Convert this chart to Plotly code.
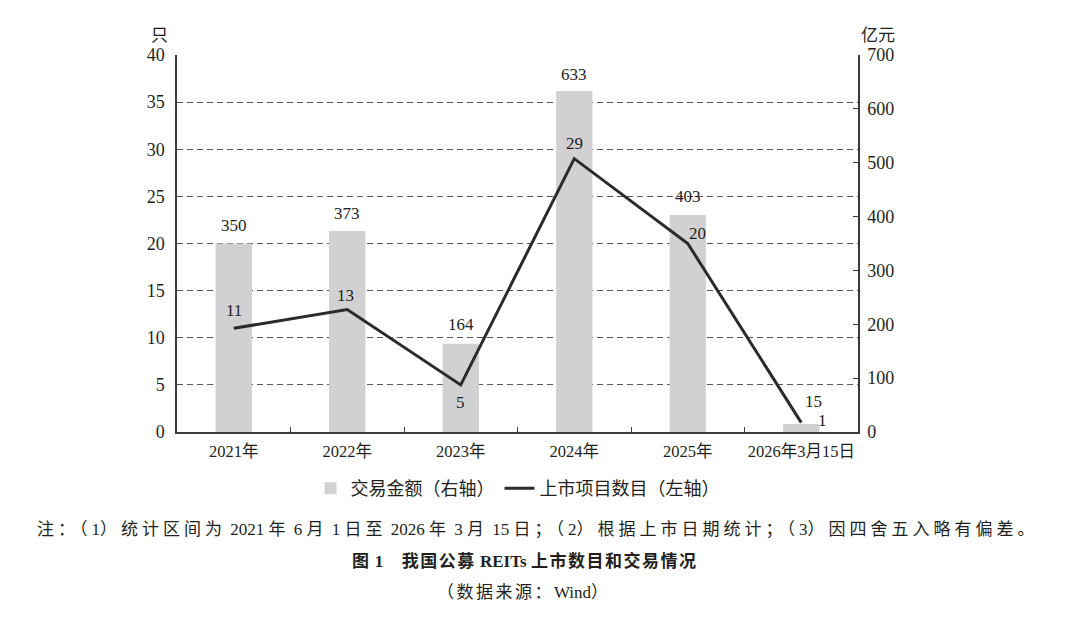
import re
import plotly.graph_objects as go

# 数据
categories = ["2021年", "2022年", "2023年", "2024年", "2025年", "2026年3月15日"]
trade_amount = [350, 373, 164, 633, 403, 15]    # 亿元（右轴）
listed_count = [11, 13, 5, 29, 20, 1]           # 只（左轴）

# 标签偏移（像素）
bar_label_shift = [(0, 18), (0, 18), (0, 19), (0, 17), (0, 18), (12, 22)]
line_label_shift = [(0, 18), (-2, 14), (0, -18), (0, 15), (10, 10), (21, 2)]

FONT = "Liberation Serif, Noto Sans CJK SC, serif"
TXT = "#231f20"
AXIS = "#3a3a3a"


def spaced(text, cjk_px):
    # 仅给中文字符加字距，数字和英文保持正常
    parts = re.findall(r"[\u3000-\u9fff\uff00-\uffef]+|[^\u3000-\u9fff\uff00-\uffef]+", text)
    out = []
    for p in parts:
        if re.match(r"[\u3000-\u9fff\uff00-\uffef]", p):
            out.append(f'<span style="letter-spacing:{cjk_px}px">{p}</span>')
        else:
            out.append(p)
    return "".join(out)


fig = go.Figure()

# 柱：右轴（主轴 y），折线：左轴（叠加轴 y2），保证折线画在柱上方
fig.add_trace(go.Bar(
    x=categories,
    y=trade_amount,
    name="交易金额（右轴）",
    marker=dict(color="#d1d1d3", line=dict(width=0)),
    width=0.32,
    yaxis="y",
))

fig.add_trace(go.Scatter(
    x=categories,
    y=listed_count,
    name="上市项目数目（左轴）",
    mode="lines",
    line=dict(color="#2b2b2b", width=3),
    yaxis="y2",
))

# 柱标签
for cat, val, (dx, dy) in zip(categories, trade_amount, bar_label_shift):
    fig.add_annotation(x=cat, y=val, yref="y", text=str(val), showarrow=False,
                       xshift=dx, yshift=dy, font=dict(size=17, color=TXT, family=FONT))

# 折线标签
for cat, val, (dx, dy) in zip(categories, listed_count, line_label_shift):
    fig.add_annotation(x=cat, y=val, yref="y2", text=str(val), showarrow=False,
                       xshift=dx, yshift=dy, font=dict(size=17, color=TXT, family=FONT))

# 轴单位
fig.add_annotation(x=-0.041, y=1.082, xref="paper", yref="paper", text="只",
                   showarrow=False, font=dict(size=17, color=TXT, family=FONT))
fig.add_annotation(x=1.058, y=1.082, xref="paper", yref="paper", text="亿元",
                   showarrow=False, font=dict(size=17, color=TXT, family=FONT))

# 注释、标题、来源
note = "注：（1）统计区间为 2021 年 6 月 1 日至 2026 年 3 月 15 日；（2）根据上市日期统计；（3）因四舍五入略有偏差。"
fig.add_annotation(x=0.53, xref="paper", y=-0.289, yref="paper",
                   text=spaced(note, 4),
                   showarrow=False, font=dict(size=17, color=TXT, family=FONT))
fig.add_annotation(x=0.51, xref="paper", y=-0.374, yref="paper",
                   text="<b>" + spaced("图 1　我国公募 REITs 上市数目和交易情况", 1.5) + "</b>",
                   showarrow=False, font=dict(size=17, color=TXT, family=FONT))
fig.add_annotation(x=0.51, xref="paper", y=-0.456, yref="paper",
                   text=spaced("（数据来源：Wind）", 2.5),
                   showarrow=False, font=dict(size=17, color=TXT, family=FONT))

fig.update_layout(
    width=1080, height=620,
    margin=dict(l=169, r=230, t=47, b=196),
    paper_bgcolor="white", plot_bgcolor="white",
    font=dict(family=FONT, size=17, color=TXT),
    showlegend=True,
    legend=dict(orientation="h", x=0.5, xanchor="center", y=-0.15, yanchor="middle",
                font=dict(size=18, color=TXT), itemwidth=30, traceorder="normal"),
    xaxis=dict(
        type="category",
        showline=True, linecolor=AXIS, linewidth=1.5,
        ticks="inside", tickson="boundaries", ticklen=5, tickcolor=AXIS,
        showgrid=False, zeroline=False,
        tickfont=dict(size=16.5), tickangle=0, ticklabelstandoff=3,
    ),
    yaxis=dict(
        range=[0, 700], dtick=100, side="right",
        showline=True, linecolor=AXIS, linewidth=1.5,
        showgrid=False, zeroline=False,
        ticks="inside", ticklen=5, tickcolor=AXIS,
        tickfont=dict(size=18), ticklabelstandoff=4,
    ),
    yaxis2=dict(
        range=[0, 40], dtick=5, overlaying="y", side="left",
        showline=True, linecolor=AXIS, linewidth=1.5,
        showgrid=True, gridcolor="#555555", griddash="6px,4px", gridwidth=1,
        zeroline=False, ticks="", tickfont=dict(size=18), ticklabelstandoff=7,
    ),
)

fig.write_html("out.html")
